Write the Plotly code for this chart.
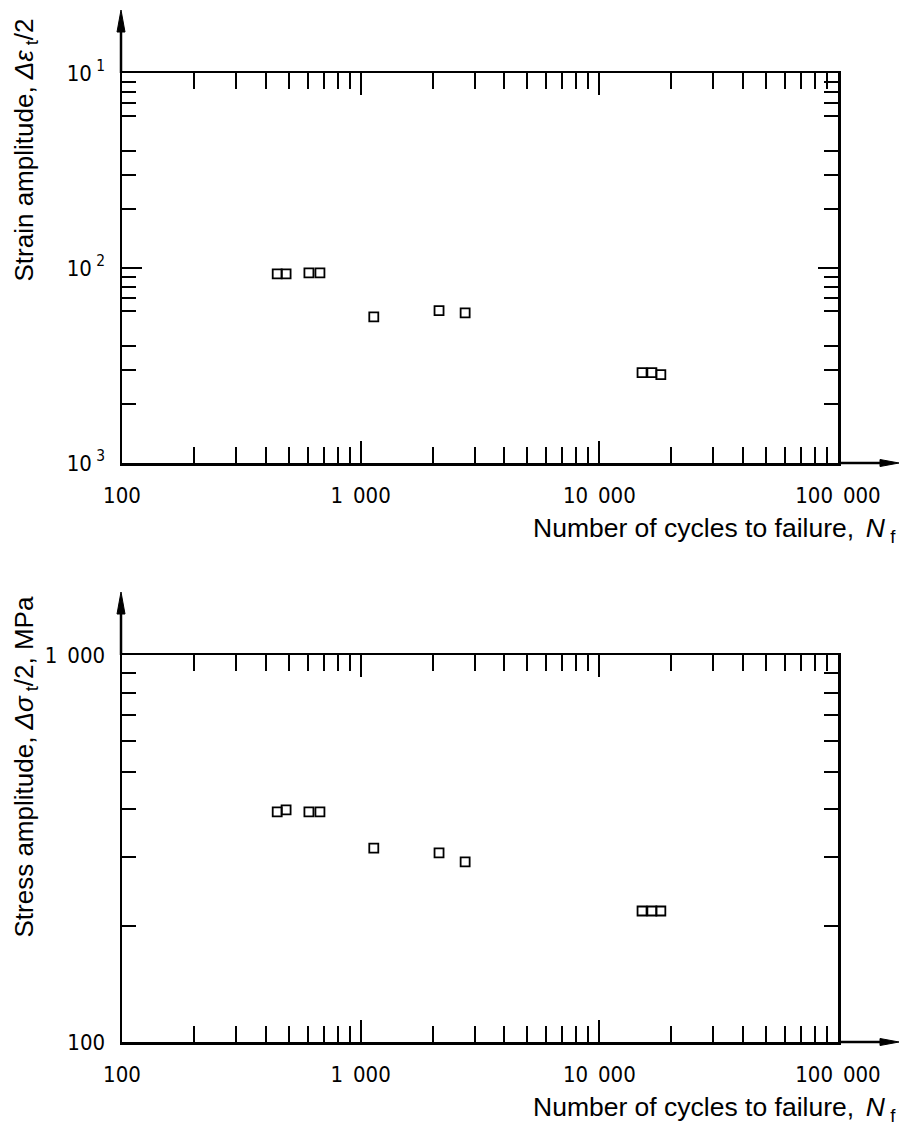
import plotly.graph_objects as go

# ---------------- data ----------------
cycles = [447, 487, 607, 675, 1135, 2130, 2740, 15100, 16600, 18100]
strain_amp = [0.00932, 0.00932, 0.00943, 0.00943, 0.00562, 0.00604, 0.00589, 0.00291, 0.00291, 0.00284]
stress_amp = [393, 398, 393, 393, 317, 308, 292, 218, 218, 218]

x_tickvals = [100, 1000, 10000, 100000]
x_ticktext = ["100", "1\u2002000", "10\u2002000", "100\u2002000"]
x_minor = [m * d for d in (100, 1000, 10000) for m in range(2, 10)]

strain_tickvals = [0.001, 0.01, 0.1]
strain_ticktext = ["10<sup> 3</sup>", "10<sup> 2</sup>", "10<sup> 1</sup>"]
strain_minor = [m * d for d in (0.001, 0.01) for m in (2, 3, 4, 6, 7, 8, 9)]

stress_tickvals = [100, 1000]
stress_ticktext = ["100", "1\u2002000"]
stress_minor = [m * 100 for m in range(2, 10)]

x_title = "Number of cycles to failure, \u2006<i>N</i><sub> f</sub>"
strain_title = "Strain amplitude, <i>\u0394\u03b5</i><sub> t</sub>/2"
stress_title = "Stress amplitude, <i>\u0394\u03c3</i><sub> t</sub>/2, MPa"

# ---------------- layout geometry (pixels) ----------------
W, H = 900, 1126
X0, X1 = 122, 838
TOP = (73, 463)
BOT = (655, 1042)


def px(x):
    return x / W


def py(y):
    return 1 - y / H


TICKFONT = dict(family="Liberation Sans Narrow, DejaVu Sans Condensed, Arial Narrow, Liberation Sans, sans-serif",
                size=22, color="black")
XTITLEFONT = dict(family="Liberation Sans, Arial, sans-serif", size=26.5, color="black")
YTITLEFONT = dict(family="Liberation Sans, Arial, sans-serif", size=26, color="black")

fig = go.Figure()
fig.add_trace(go.Scatter(x=cycles, y=strain_amp, mode="markers", xaxis="x", yaxis="y",
                         marker=dict(symbol="square-open", size=9, color="black",
                                     line=dict(width=1.8, color="black")),
                         showlegend=False, cliponaxis=False))
fig.add_trace(go.Scatter(x=cycles, y=stress_amp, mode="markers", xaxis="x2", yaxis="y2",
                         marker=dict(symbol="square-open", size=9, color="black",
                                     line=dict(width=1.8, color="black")),
                         showlegend=False, cliponaxis=False))


def xaxis_cfg(anchor):
    return dict(type="log", range=[2, 5], domain=[px(X0), px(X1)], anchor=anchor,
                tickmode="array", tickvals=x_tickvals, ticktext=x_ticktext,
                ticks="inside", ticklen=22, tickwidth=2, tickcolor="black",
                minor=dict(tickmode="array", tickvals=x_minor, ticks="inside",
                           ticklen=16, tickwidth=2, tickcolor="black", showgrid=False),
                showline=True, linecolor="black", linewidth=2.5, mirror="ticks",
                showgrid=False, zeroline=False, tickfont=TICKFONT, ticklabelstandoff=11,
                automargin=False)


def yaxis_cfg(anchor, rng, dom, tv, tt, mv):
    return dict(type="log", range=rng, domain=dom, anchor=anchor,
                tickmode="array", tickvals=tv, ticktext=tt,
                ticks="inside", ticklen=20, tickwidth=2, tickcolor="black",
                minor=dict(tickmode="array", tickvals=mv, ticks="inside",
                           ticklen=14, tickwidth=2, tickcolor="black", showgrid=False),
                showline=True, linecolor="black", linewidth=2.5, mirror="ticks",
                showgrid=False, zeroline=False, tickfont=TICKFONT, ticklabelstandoff=10,
                automargin=False)


fig.update_layout(
    width=W, height=H, autosize=False,
    margin=dict(l=0, r=0, t=0, b=0, pad=0, autoexpand=False),
    paper_bgcolor="white", plot_bgcolor="white",
    xaxis=xaxis_cfg("y"),
    yaxis=yaxis_cfg("x", [-3, -1], [py(TOP[1]), py(TOP[0])], strain_tickvals, strain_ticktext, strain_minor),
    xaxis2=xaxis_cfg("y2"),
    yaxis2=yaxis_cfg("x2", [2, 3], [py(BOT[1]), py(BOT[0])], stress_tickvals, stress_ticktext, stress_minor),
)

shapes = []
anns = []
for (ytop, ybot), ytitle, ybottom_txt in ((TOP, strain_title, 284), (BOT, stress_title, 940)):
    # y-axis arrow
    tip = ytop - 63
    shapes.append(dict(type="line", xref="paper", yref="paper", x0=px(X0 - 1), x1=px(X0 - 1),
                       y0=py(ytop), y1=py(tip + 18), line=dict(color="black", width=2.5)))
    shapes.append(dict(type="path", xref="paper", yref="paper",
                       path=f"M {px(X0 - 1)} {py(tip)} L {px(X0 - 5)} {py(tip + 22)} L {px(X0 + 3)} {py(tip + 22)} Z",
                       fillcolor="black", line=dict(color="black", width=1)))
    # x-axis arrow
    shapes.append(dict(type="line", xref="paper", yref="paper", x0=px(X1), x1=px(884),
                       y0=py(ybot), y1=py(ybot), line=dict(color="black", width=2.5)))
    shapes.append(dict(type="path", xref="paper", yref="paper",
                       path=f"M {px(899)} {py(ybot)} L {px(880)} {py(ybot - 3.5)} L {px(880)} {py(ybot + 3.5)} Z",
                       fillcolor="black", line=dict(color="black", width=1)))
    # titles
    anns.append(dict(text=x_title, xref="paper", yref="paper", x=px(898), y=py(ybot + 86),
                     xanchor="right", yanchor="bottom", showarrow=False, font=XTITLEFONT))
    anns.append(dict(text=ytitle, xref="paper", yref="paper", x=px(25), y=py(ybottom_txt),
                     xanchor="center", yanchor="bottom", textangle=-90, showarrow=False, font=YTITLEFONT))

fig.update_layout(shapes=shapes, annotations=anns)
fig.write_html("out.html", config={"displayModeBar": False, "staticPlot": True},
               post_script="document.body.style.margin='0px';document.body.style.overflow='hidden';")
